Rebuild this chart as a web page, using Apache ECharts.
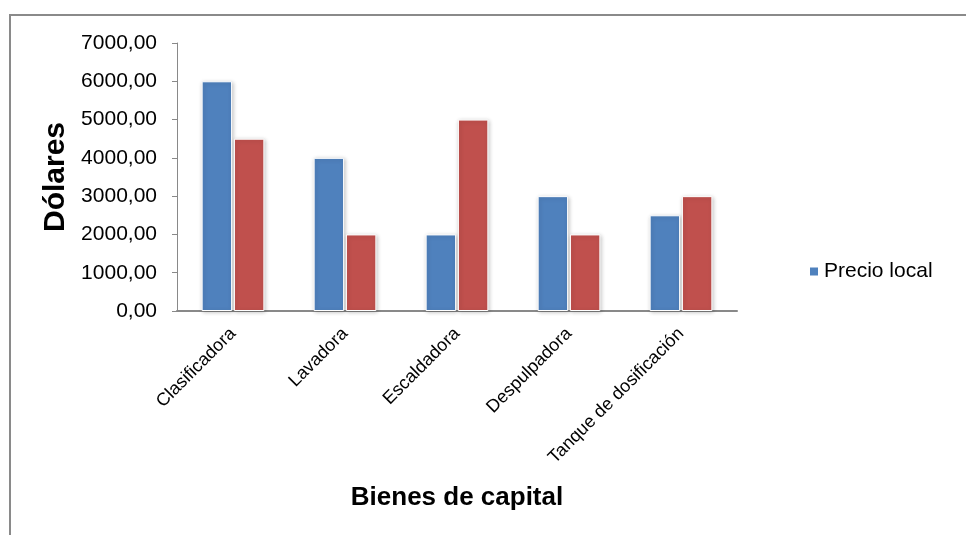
<!DOCTYPE html>
<html>
<head>
<meta charset="utf-8">
<script src="https://cdn.jsdelivr.net/npm/echarts@6/dist/echarts.min.js"></script>
<style>html,body{margin:0;padding:0;background:#fff}#c{width:966px;height:535px}</style>
</head>
<body>
<div id="c"></div>
<script>
const categories = ['Clasificadora', 'Lavadora', 'Escaldadora', 'Despulpadora', 'Tanque de dosificación'];
const precioLocal = [6000, 4000, 2000, 3000, 2500];
const precioOtro = [4500, 2000, 5000, 2000, 3000];
const yTicks = [0, 1000, 2000, 3000, 4000, 5000, 6000, 7000];

const chart = echarts.init(document.getElementById('c'));
const font = 'Liberation Sans, Arial, sans-serif';
const barStyle = (color) => ({
  color: color,
  borderColor: '#ffffff',
  borderWidth: 1,
  shadowColor: 'rgba(0,0,0,0.22)',
  shadowBlur: 4,
  shadowOffsetX: 1,
  shadowOffsetY: 1
});
chart.setOption({
  backgroundColor: '#ffffff',
  animation: false,
  textStyle: { fontFamily: font, color: '#000' },
  graphic: [{
    type: 'rect', silent: true, z: -1,
    shape: { x: 10, y: 15, width: 1000, height: 600 },
    style: { fill: 'none', stroke: '#8a8a8a', lineWidth: 2 }
  }],
  grid: { left: 177, right: 229, top: 43, bottom: 224, containLabel: false },
  legend: {
    data: ['Precio local'],
    left: 803, top: 256,
    icon: 'rect', itemWidth: 10, itemHeight: 10, itemGap: 8,
    textStyle: { fontSize: 21, fontFamily: font, color: '#000' }
  },
  xAxis: {
    type: 'category',
    data: categories,
    name: 'Bienes de capital',
    nameLocation: 'middle',
    nameGap: 174,
    nameMoveOverlap: false,
    nameTextStyle: { fontSize: 26, fontWeight: 'bold', fontFamily: font, color: '#000' },
    axisLine: { lineStyle: { color: '#898989', width: 2 } },
    axisTick: { show: false },
    axisLabel: { rotate: 45, fontSize: 18, fontFamily: font, color: '#000', margin: 20, interval: 0 }
  },
  yAxis: {
    type: 'value',
    min: yTicks[0], max: yTicks[yTicks.length - 1], interval: 1000,
    name: 'Dólares',
    nameLocation: 'middle',
    nameRotate: 90,
    nameGap: 106,
    nameMoveOverlap: false,
    nameTextStyle: { fontSize: 30, fontWeight: 'bold', fontFamily: font, color: '#000' },
    axisLine: { show: true, lineStyle: { color: '#898989', width: 1 } },
    axisTick: { show: true, length: 5, lineStyle: { color: '#898989' } },
    splitLine: { show: false },
    axisLabel: {
      fontSize: 21, fontFamily: font, color: '#000', margin: 20,
      formatter: (v) => v.toFixed(2).replace('.', ',')
    }
  },
  series: [
    { name: 'Precio local', type: 'bar', data: precioLocal, barGap: '6%', barCategoryGap: '44%', itemStyle: barStyle('#4F81BD') },
    { name: 'Precio importado', type: 'bar', data: precioOtro, itemStyle: barStyle('#C0504D') }
  ]
});
</script>
</body>
</html>
